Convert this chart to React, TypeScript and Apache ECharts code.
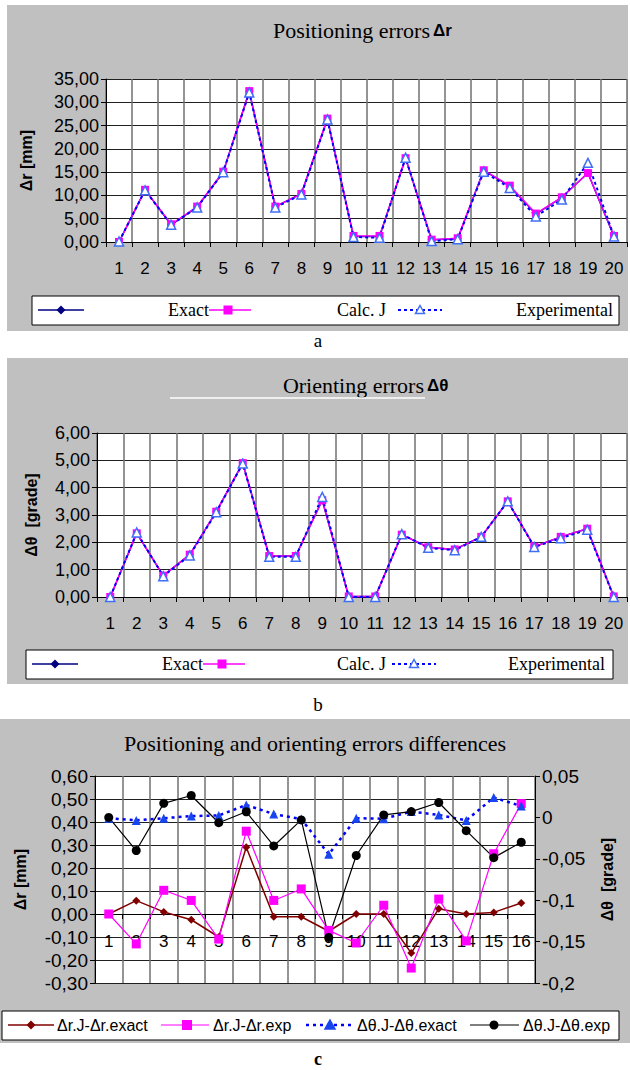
import React, { useEffect, useRef } from 'react';
import * as echarts from 'echarts';

// ---------- DATA ----------
const categoriesA = ['1', '2', '3', '4', '5', '6', '7', '8', '9', '10', '11', '12', '13', '14', '15', '16', '17', '18', '19', '20'];
const exactA = [0.0, 11.2, 3.7, 7.5, 15.0, 32.3, 7.6, 10.4, 26.4, 1.2, 1.2, 18.0, 0.5, 0.7, 15.4, 12.0, 6.0, 9.6, 14.8, 1.2];
const calcJA = [0.0, 11.2, 3.8, 7.6, 15.1, 32.4, 7.6, 10.3, 26.5, 1.3, 1.3, 18.0, 0.5, 0.8, 15.4, 12.1, 6.1, 9.6, 14.8, 1.3];
const experimentalA = [0.1, 11.1, 3.7, 7.4, 15.0, 32.1, 7.4, 10.2, 26.3, 1.1, 0.9, 18.1, 0.2, 0.6, 15.1, 11.6, 5.5, 9.1, 17.0, 1.2];

const categoriesB = ['1', '2', '3', '4', '5', '6', '7', '8', '9', '10', '11', '12', '13', '14', '15', '16', '17', '18', '19', '20'];
const exactB = [0.0, 2.33, 0.78, 1.55, 3.12, 4.9, 1.5, 1.5, 3.54, 0.02, 0.02, 2.28, 1.82, 1.74, 2.2, 3.5, 1.84, 2.2, 2.5, 0.02];
const calcJB = [0.0, 2.33, 0.78, 1.55, 3.12, 4.9, 1.5, 1.5, 3.54, 0.02, 0.02, 2.28, 1.82, 1.74, 2.2, 3.5, 1.84, 2.2, 2.5, 0.02];
const experimentalB = [0.0, 2.36, 0.76, 1.52, 3.1, 4.88, 1.47, 1.47, 3.66, 0.0, 0.0, 2.3, 1.8, 1.71, 2.2, 3.5, 1.83, 2.15, 2.46, 0.0];

const categoriesC = ['1', '2', '3', '4', '5', '6', '7', '8', '9', '10', '11', '12', '13', '14', '15', '16'];
const drExact = [0.0, 0.058, 0.009, -0.025, -0.1, 0.29, -0.012, -0.012, -0.075, 0.0, 0.0, -0.17, 0.023, 0.0, 0.007, 0.048];
const drExp = [0.0, -0.13, 0.103, 0.059, -0.109, 0.36, 0.059, 0.109, -0.071, -0.126, 0.038, -0.235, 0.065, -0.117, 0.262, 0.48];
const dthExact = [-0.001, -0.0036, -0.001, 0.0016, 0.0024, 0.015, 0.004, -0.002, -0.0446, -0.001, -0.0016, 0.007, 0.003, -0.0036, 0.024, 0.0137];
const dthExp = [0.0, -0.04, 0.017, 0.0265, -0.0064, 0.0068, -0.0345, -0.003, -0.145, -0.046, 0.003, 0.007, 0.018, -0.016, -0.0486, -0.03];

const legendAB = ['Exact', 'Calc. J', 'Experimental'];
const legendC = ['Δr.J-Δr.exact', 'Δr.J-Δr.exp', 'Δθ.J-Δθ.exact', 'Δθ.J-Δθ.exp'];

// ---------- STYLE ----------
const SERIF = "'Liberation Serif', 'Times New Roman', serif";
const SANS = "'Liberation Sans', Arial, sans-serif";
const NAVY = '#000080';
const MAGENTA = '#ff00ff';
const BLUE = '#0000ff';
const LIGHTBLUE = '#3f6ff5';
const MAROON = '#800000';
const PANEL = '#c0c0c0';

const fmt2 = (v: number) => (Math.abs(v) < 1e-9 ? '0,00' : v.toFixed(2).replace('.', ','));
const fmtR = (v: number) => {
  const r = Math.round(v * 100) / 100;
  return r === 0 ? '0' : String(r).replace('.', ',');
};

function txt(x: number, y: number, text: string, o: any = {}) {
  return {
    type: 'text',
    x,
    y,
    z: 20,
    style: {
      text,
      fill: '#000',
      fontFamily: o.family || SERIF,
      fontSize: o.size || 18,
      fontWeight: o.weight || 'normal',
      align: o.align || 'left',
      verticalAlign: 'middle',
    },
  };
}
function hline(x1: number, x2: number, y: number, color: string, width: number, dash?: number[]) {
  return {
    type: 'line',
    z: 20,
    shape: { x1, y1: y, x2, y2: y },
    style: { stroke: color, lineWidth: width, lineDash: dash || null },
  };
}
function diamond(cx: number, cy: number, s: number, color: string) {
  return { type: 'polygon', z: 21, shape: { points: [[cx, cy - s], [cx + s, cy], [cx, cy + s], [cx - s, cy]] }, style: { fill: color } };
}
function square(cx: number, cy: number, s: number, color: string) {
  return { type: 'rect', z: 21, shape: { x: cx - s, y: cy - s, width: 2 * s, height: 2 * s }, style: { fill: color } };
}
function triangle(cx: number, cy: number, s: number, fill: string, stroke: string) {
  return {
    type: 'polygon',
    z: 21,
    shape: { points: [[cx, cy - s], [cx + s, cy + s * 0.8], [cx - s, cy + s * 0.8]] },
    style: { fill, stroke, lineWidth: 1.5 },
  };
}
function dot(cx: number, cy: number, r: number, color: string) {
  return { type: 'circle', z: 21, shape: { cx, cy, r }, style: { fill: color } };
}
function box(x: number, y: number, w: number, h: number, fill: string, stroke?: string, z = 19) {
  return {
    type: 'rect',
    z,
    shape: { x, y, width: w, height: h },
    style: { fill, stroke: stroke || null, lineWidth: stroke ? 1 : 0 },
  };
}

function catAxis(grid: number, data: string[], margin: number, fontSize: number, offset = 0) {
  return {
    type: 'category',
    gridIndex: grid,
    position: 'bottom',
    offset,
    data,
    boundaryGap: true,
    axisLine: { show: true, onZero: false, lineStyle: { color: '#000', width: 1 } },
    axisTick: { show: true, length: 5, lineStyle: { color: '#000' } },
    axisLabel: { interval: 0, margin, fontSize, fontFamily: SANS, color: '#000' },
    splitLine: { show: true, lineStyle: { color: '#707070', width: 1.5 } },
  };
}

function valAxis(grid: number, min: number, max: number, interval: number, formatter: any, name: string, nameGap: number, fontSize: number, position = 'left', split = true) {
  return {
    type: 'value',
    gridIndex: grid,
    position,
    min,
    max,
    interval,
    name,
    nameLocation: 'middle',
    nameRotate: 90,
    nameGap,
    nameTextStyle: { fontFamily: SANS, fontWeight: 'bold', fontSize: 16, color: '#000' },
    axisLine: { show: true, onZero: false, lineStyle: { color: '#000', width: 1 } },
    axisTick: { show: true, length: 5, lineStyle: { color: '#000' } },
    axisLabel: { formatter, fontSize, fontFamily: SANS, color: '#000', margin: 7 },
    splitLine: { show: split, lineStyle: { color: '#202020', width: 1 } },
  };
}

function seriesAB(xi: number, exact: number[], calc: number[], exp: number[]) {
  return [
    {
      name: legendAB[0], type: 'line', xAxisIndex: xi, yAxisIndex: xi, data: exact,
      symbol: 'diamond', symbolSize: 8, itemStyle: { color: NAVY }, lineStyle: { color: NAVY, width: 1.5 },
    },
    {
      name: legendAB[1], type: 'line', xAxisIndex: xi, yAxisIndex: xi, data: calc,
      symbol: 'rect', symbolSize: 8, itemStyle: { color: MAGENTA }, lineStyle: { color: MAGENTA, width: 1.5 },
    },
    {
      name: legendAB[2], type: 'line', xAxisIndex: xi, yAxisIndex: xi, data: exp,
      symbol: 'triangle', symbolSize: 9,
      itemStyle: { color: '#ffffff', borderColor: LIGHTBLUE, borderWidth: 1.5 },
      lineStyle: { color: BLUE, width: 2, type: [3, 3] },
    },
  ];
}

function legendABGraphics(y: number, bx: number, bw: number, l1: number, t1: number, l2: number, t2: number, l3: number, t3: number) {
  return [
    box(bx, y - 14, bw, 29, '#fff', '#000'),
    hline(l1, l1 + 46, y, NAVY, 1.5),
    diamond(l1 + 23, y, 4.5, NAVY),
    txt(t1, y, legendAB[0], { align: 'right', size: 18 }),
    hline(l2, l2 + 42, y, MAGENTA, 1.5),
    square(l2 + 19, y, 4.5, MAGENTA),
    txt(t2, y, legendAB[1], { align: 'right', size: 18 }),
    hline(l3, l3 + 44, y, BLUE, 2, [3, 3]),
    triangle(l3 + 22, y, 4.5, '#fff', LIGHTBLUE),
    txt(t3, y, legendAB[2], { align: 'right', size: 18 }),
  ];
}

export default function App() {
  const ref = useRef<HTMLDivElement>(null);
  useEffect(() => {
    document.body.style.margin = '0';
    const chart = echarts.init(ref.current!, null, { renderer: 'svg' });
    const option: any = {
      animation: false,
      backgroundColor: '#ffffff',
      grid: [
        { left: 106, top: 79, width: 521, height: 163, show: true, backgroundColor: '#fff', borderWidth: 0 },
        { left: 97, top: 433, width: 530, height: 164, show: true, backgroundColor: '#fff', borderWidth: 0 },
        { left: 95, top: 776, width: 440, height: 207, show: true, backgroundColor: '#fff', borderWidth: 0 },
      ],
      xAxis: [
        catAxis(0, categoriesA, 18, 17),
        catAxis(1, categoriesB, 18, 17),
        catAxis(2, categoriesC, 19, 17, -69),
      ],
      yAxis: [
        valAxis(0, 0, 35, 5, fmt2, 'Δr [mm]', 72, 18),
        valAxis(1, 0, 6, 1, fmt2, 'Δθ  [grade]', 58, 18),
        valAxis(2, -0.3, 0.6, 0.1, fmt2, 'Δr [mm]', 67, 19),
        valAxis(2, -0.2, 0.05, 0.05, fmtR, 'Δθ  [grade]', 64, 19, 'right', false),
      ],
      series: [
        ...seriesAB(0, exactA, calcJA, experimentalA),
        ...seriesAB(1, exactB, calcJB, experimentalB),
        {
          name: legendC[0], type: 'line', xAxisIndex: 2, yAxisIndex: 2, data: drExact,
          symbol: 'diamond', symbolSize: 8, itemStyle: { color: MAROON }, lineStyle: { color: MAROON, width: 1.5 },
        },
        {
          name: legendC[1], type: 'line', xAxisIndex: 2, yAxisIndex: 2, data: drExp,
          symbol: 'rect', symbolSize: 9, itemStyle: { color: MAGENTA }, lineStyle: { color: MAGENTA, width: 1.2 },
        },
        {
          name: legendC[2], type: 'line', xAxisIndex: 2, yAxisIndex: 3, data: dthExact,
          symbol: 'triangle', symbolSize: 9, itemStyle: { color: '#1746f0' },
          lineStyle: { color: BLUE, width: 2.5, type: [3, 4] },
        },
        {
          name: legendC[3], type: 'line', xAxisIndex: 2, yAxisIndex: 3, data: dthExp,
          symbol: 'circle', symbolSize: 9, itemStyle: { color: '#000' }, lineStyle: { color: '#000', width: 1.2 },
        },
      ],
      graphic: [
        // panels
        box(7, 5, 621, 326, PANEL, undefined, -100),
        box(7, 358, 621, 326, PANEL, undefined, -100),
        box(0, 719, 630, 324, PANEL, undefined, -100),
        // titles
        txt(430, 30, 'Positioning errors', { align: 'right', size: 22 }),
        txt(433, 30, 'Δr', { family: SANS, weight: 'bold', size: 17 }),
        txt(424, 385, 'Orienting errors', { align: 'right', size: 22 }),
        txt(427, 385, 'Δθ', { family: SANS, weight: 'bold', size: 17 }),
        hline(170, 425, 398, '#ffffff', 1.5),
        txt(315, 743, 'Positioning and orienting errors differences', { align: 'center', size: 22 }),
        // captions
        txt(318, 340, 'a', { align: 'center', size: 19 }),
        txt(318, 704, 'b', { align: 'center', size: 19 }),
        txt(318, 1059, 'c', { align: 'center', size: 18, weight: 'bold' }),
        // legends a, b
        ...legendABGraphics(310, 32, 587, 38, 209, 209, 386, 398, 613),
        ...legendABGraphics(664, 26, 587, 32, 203, 203, 386, 392, 605),
        // legend c
        box(2, 1011, 617, 29, '#fff', '#000'),
        hline(8, 54, 1025, MAROON, 1.5),
        diamond(31, 1025, 4.5, MAROON),
        txt(57, 1025, legendC[0], { family: SANS, size: 16 }),
        hline(161, 209, 1025, MAGENTA, 1.2),
        square(187, 1025, 5, MAGENTA),
        txt(213, 1025, legendC[1], { family: SANS, size: 16 }),
        hline(306, 352, 1025, BLUE, 2.5, [3, 4]),
        triangle(330, 1025, 5, '#1746f0', '#1746f0'),
        txt(357, 1025, legendC[2], { family: SANS, size: 16 }),
        hline(470, 519, 1025, '#000', 1.2),
        dot(494, 1025, 4.5, '#000'),
        txt(523, 1025, legendC[3], { family: SANS, size: 16 }),
      ],
    };
    chart.setOption(option);
    return () => chart.dispose();
  }, []);
  return <div ref={ref} style={{ width: 630, height: 1070 }} />;
}
